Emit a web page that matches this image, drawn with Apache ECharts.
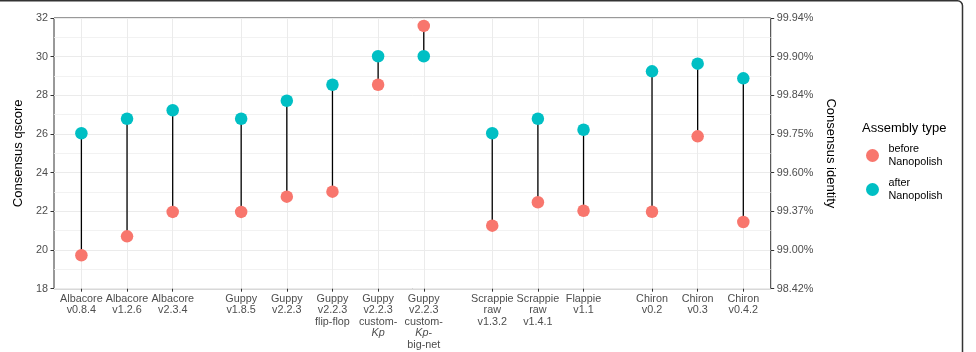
<!DOCTYPE html>
<html>
<head>
<meta charset="utf-8">
<script src="https://cdn.jsdelivr.net/npm/echarts@6/dist/echarts.min.js"></script>
<style>html,body{margin:0;padding:0;background:#fff;}#c{width:976px;height:352px;}</style>
</head>
<body>
<div id="c"></div>
<script>
// ---- data ----
var categories = [
  'Albacore\nv0.8.4', 'Albacore\nv1.2.6', 'Albacore\nv2.3.4',
  'Guppy\nv1.8.5', 'Guppy\nv2.2.3', 'Guppy\nv2.2.3\nflip-flop',
  'Guppy\nv2.2.3\ncustom-\n{i|Kp}', 'Guppy\nv2.2.3\ncustom-\n{i|Kp}-\nbig-net',
  'Scrappie\nraw\nv1.3.2', 'Scrappie\nraw\nv1.4.1', 'Flappie\nv1.1',
  'Chiron\nv0.2', 'Chiron\nv0.3', 'Chiron\nv0.4.2'
];
// category slots on the x scale (groups separated by wider gaps)
var slots = [1, 2, 3, 4.5, 5.5, 6.5, 7.5, 8.5, 10, 11, 12, 13.5, 14.5, 15.5];
var beforeNanopolish = [19.73, 20.71, 21.97, 21.97, 22.76, 23.02, 28.55, 31.59, 21.26, 22.47, 22.03, 21.98, 25.88, 21.45];
var afterNanopolish  = [26.04, 26.79, 27.23, 26.79, 27.72, 28.55, 30.02, 30.02, 26.04, 26.79, 26.22, 29.24, 29.64, 28.88];
var qscoreTicks = [18, 20, 22, 24, 26, 28, 30, 32];
var identityLabels = ['98.42%', '99.00%', '99.37%', '99.60%', '99.75%', '99.84%', '99.90%', '99.94%'];
var seriesNames = ['before\nNanopolish', 'after\nNanopolish'];

var labelMap = {};
slots.forEach(function (s, i) { labelMap[s.toFixed(1)] = categories[i]; });
var idMap = {};
qscoreTicks.forEach(function (t, i) { idMap[t] = identityLabels[i]; });

var FONT = 'Liberation Sans, Arial, Helvetica, sans-serif';
var chart = echarts.init(document.getElementById('c'), null, { renderer: 'canvas' });
var option = {
  animation: false,
  textStyle: { fontFamily: FONT },
  title: {
    text: 'Assembly type', left: 862, top: 122, padding: 0,
    textStyle: { fontSize: 13, fontWeight: 'normal', color: '#000', fontFamily: FONT }
  },
  legend: {
    orient: 'vertical', left: 866, top: 143, padding: 0,
    itemWidth: 22, itemHeight: 13, itemGap: 9,
    icon: 'circle',
    data: seriesNames,
    textStyle: { fontSize: 10.8, lineHeight: 12.5, color: '#000', fontFamily: FONT }
  },
  graphic: [{
    type: 'rect', silent: true, z: 100,
    shape: { x: -5, y: 0.75, width: 967.5, height: 400, r: 5 },
    style: { fill: 'none', stroke: '#333', lineWidth: 1.5 }
  }],
  grid: { left: 54, top: 18, width: 716.7, height: 270.7, show: true, borderColor: '#333', borderWidth: 1, backgroundColor: 'transparent' },
  xAxis: {
    type: 'value', min: 0.4, max: 16.1,
    axisLine: { show: false },
    axisTick: { show: true, customValues: slots, length: 3, lineStyle: { color: '#333' } },
    splitLine: { show: true, customValues: slots, lineStyle: { color: '#EBEBEB', width: 1 } },
    axisLabel: {
      customValues: slots, margin: 4.5, color: '#4D4D4D', fontSize: 10.8, lineHeight: 11.5,
      align: 'center', verticalAlign: 'top', fontFamily: FONT,
      formatter: function (v) { var k = Number(v).toFixed(1); return labelMap[k] || ''; },
      rich: { i: { fontStyle: 'italic', fontSize: 10.8, lineHeight: 11.5, color: '#4D4D4D', fontFamily: FONT } }
    }
  },
  yAxis: [{
    type: 'value', min: 18, max: 32, interval: 2, position: 'left',
    name: 'Consensus qscore', nameLocation: 'middle', nameGap: 26,
    nameTextStyle: { fontSize: 13, color: '#000', fontFamily: FONT },
    axisLine: { show: false },
    axisTick: { show: true, length: 3.5, lineStyle: { color: '#333' } },
    axisLabel: { margin: 6, color: '#4D4D4D', fontSize: 10.8, fontFamily: FONT },
    splitLine: { show: true, lineStyle: { color: '#EBEBEB', width: 1 } },
    minorTick: { show: false, splitNumber: 2 },
    minorSplitLine: { show: true, lineStyle: { color: '#EFEFEF', width: 0.8 } }
  }, {
    type: 'value', min: 18, max: 32, interval: 2, position: 'right',
    name: 'Consensus identity', nameLocation: 'middle', nameGap: 46, nameRotate: -90,
    nameTextStyle: { fontSize: 13, color: '#000', fontFamily: FONT },
    axisLine: { show: false },
    axisTick: { show: true, length: 3.5, lineStyle: { color: '#333' } },
    axisLabel: {
      margin: 6, color: '#4D4D4D', fontSize: 10.8, fontFamily: FONT,
      formatter: function (v) { return idMap[v] || ''; }
    },
    splitLine: { show: false }
  }],
  series: [{
    type: 'custom', name: 'segments', z: 2, silent: true,
    data: slots.map(function (s, i) { return [s, beforeNanopolish[i], afterNanopolish[i]]; }),
    encode: { x: 0, y: [1, 2] },
    renderItem: function (params, api) {
      var p1 = api.coord([api.value(0), api.value(1)]);
      var p2 = api.coord([api.value(0), api.value(2)]);
      return { type: 'line', shape: { x1: p1[0], y1: p1[1], x2: p2[0], y2: p2[1] }, style: { stroke: '#000', lineWidth: 1.3 } };
    }
  }, {
    type: 'scatter', name: seriesNames[0], z: 3, symbolSize: 12.5,
    itemStyle: { color: '#F8766D', opacity: 1 },
    data: slots.map(function (s, i) { return [s, beforeNanopolish[i]]; })
  }, {
    type: 'scatter', name: seriesNames[1], z: 4, symbolSize: 12.5,
    itemStyle: { color: '#00BFC4', opacity: 1 },
    data: slots.map(function (s, i) { return [s, afterNanopolish[i]]; })
  }]
};
chart.setOption(option);
</script>
</body>
</html>
